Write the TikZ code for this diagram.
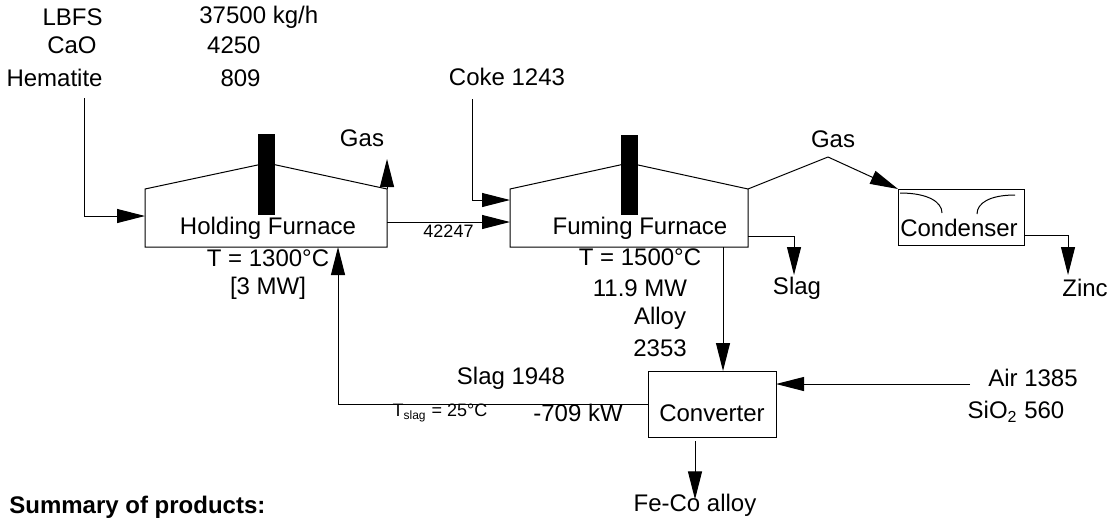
\documentclass[tikz,border=0pt]{standalone}
\usepackage{fontspec}
\setmainfont{Liberation Sans}
\usepackage{tikz}
\usetikzlibrary{arrows.meta, positioning, calc}

\begin{document}
\begin{tikzpicture}[
  x=0.5pt, y=-0.5pt,
  lbl/.style={inner sep=1pt, font=\fontsize{12}{14}\selectfont},
  smalllbl/.style={inner sep=1pt, font=\fontsize{9}{10}\selectfont},
  unitbox/.style={draw, line width=0.5pt, inner sep=0pt, outer sep=0pt},
  housebox/.style={inner sep=0pt, outer sep=0pt},
  flowline/.style={line width=0.5pt, -{Triangle[length=14pt, width=7pt]}},
  plainline/.style={line width=0.5pt}
]
  \useasboundingbox (0,0) rectangle (1112,520);

  % feed table
  \node[lbl, anchor=east] (lbfs) at (105,17) {LBFS};
  \node[lbl, anchor=east] (cao) at (99,45) {CaO};
  \node[lbl, anchor=east] (hem) at (105,78) {Hematite};
  \node[lbl, anchor=west] (lbfsval) at (197,17) {37500 kg/h};
  \node[lbl, anchor=east] (caoval) at (263,45) {4250};
  \node[lbl, anchor=east] (hemval) at (263,78) {809};

  % holding furnace
  \node[housebox, minimum width=121pt, minimum height=29pt] (hold) at (266,218) {};
  \draw[plainline] (hold.north west) -- (hold.south west) -- (hold.south east)
    -- (hold.north east) -- (267,163) -- cycle;
  \fill (258,134) rectangle (275,215);
  \node[lbl] (holdtxt) at (268,228) {Holding Furnace};
  \node[lbl] (holdT) at (268,258) {T = 1300°C};
  \node[lbl] (holdP) at (268,288) {[3 MW]};
  \node[lbl] (holdgas) at (362,138) {Gas};

  % fuming furnace
  \node[housebox, minimum width=119pt, minimum height=29pt] (fume) at (629,218) {};
  \draw[plainline] (fume.north west) -- (fume.south west) -- (fume.south east)
    -- (fume.north east) -- (629,163) -- cycle;
  \fill (621,135) rectangle (638,215);
  \node[lbl] (fumetxt) at (640,228) {Fuming Furnace};
  \node[lbl] (fumeT) at (640,257) {T = 1500°C};
  \node[lbl] (fumeP) at (640,288) {11.9 MW};
  \node[lbl] (alloy) at (660,318) {Alloy};
  \node[lbl] (alloyval) at (660,348) {2353};
  \node[lbl] (coke) at (507,77) {Coke 1243};
  \node[lbl] (fumeslag) at (797,288) {Slag};
  \node[lbl] (fumegas) at (833,139) {Gas};

  % condenser
  \node[unitbox, minimum width=63pt, minimum height=28pt] (cond) at (961,217) {};
  \draw[plainline] (900,193) .. controls (928,193) and (942,202) .. (942,213);
  \draw[plainline] (977,214) .. controls (977,203) and (990,195) .. (1015,195);
  \node[lbl] (condtxt) at (959,228) {Condenser};
  \node[lbl] (zinc) at (1085,288) {Zinc};

  % converter
  \node[unitbox, minimum width=64pt, minimum height=33pt] (conv) at (712,404) {};
  \node[lbl] (convtxt) at (712,413) {Converter};
  \node[lbl] (air) at (1033,378) {Air 1385};
  \node[lbl] (sio) at (1016,412) {SiO\textsubscript{2} 560};
  \node[lbl] (feco) at (695,505) {Fe-Co alloy};
  \node[lbl] (slagret) at (511,378) {Slag 1948};
  \node[smalllbl] (tslag) at (440,413) {T\textsubscript{slag} = 25°C};
  \node[lbl] (convP) at (578,413) {-709 kW};

  \node[lbl, anchor=west, font=\fontsize{12}{14}\selectfont\bfseries] (summary) at (7,507) {Summary of products:};

  % connectors
  \coordinate (hemout) at (84,98);
  \coordinate (cokeout) at (472,99);
  \coordinate (gaspeak) at (828,157);
  \coordinate (slagin) at (794,275);
  \coordinate (zincin) at (1068,275);
  \coordinate (alloyx) at (723,0);
  \coordinate (retx) at (338,0);
  \coordinate (airout) at (970,384);

  \draw[flowline] (hemout) |- ([yshift=1pt]hold.west);
  \draw[flowline] (hold.north east) -- ++(0,-30);
  \draw[flowline] ([yshift=-2pt]hold.east) -- ([yshift=-2pt]fume.west)
    node[smalllbl, midway, below] {42247};
  \draw[flowline] (cokeout) |- ([yshift=9pt]fume.west);
  \draw[plainline] (fume.north east) -- (gaspeak);
  \draw[flowline] (gaspeak) -- (cond.north west);
  \draw[flowline] ([yshift=-9pt]fume.east) -| (slagin);
  \draw[flowline] ([yshift=-9pt]cond.east) -| (zincin);
  \draw[flowline] (fume.south -| alloyx) -- (conv.north -| alloyx);
  \draw[flowline] (conv.west) -| (hold.south -| retx);
  \draw[flowline] (airout) -- (conv.east |- airout);
  \draw[flowline] ([yshift=-2pt]conv.south -| feco.north) -- ([yshift=-4pt]feco.north);
\end{tikzpicture}
\end{document}
